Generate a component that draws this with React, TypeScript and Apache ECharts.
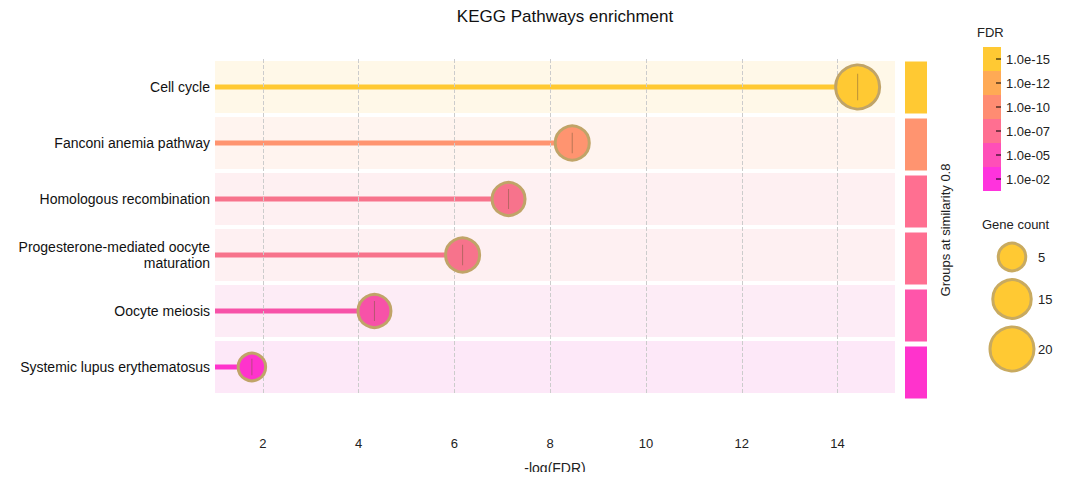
import { useEffect, useRef } from 'react'
import * as echarts from 'echarts'

const pathways = [
  'Cell cycle',
  'Fanconi anemia pathway',
  'Homologous recombination',
  'Progesterone-mediated oocyte\nmaturation',
  'Oocyte meiosis',
  'Systemic lupus erythematosus',
]
const logFdr = [14.42, 8.46, 7.13, 6.17, 4.33, 1.77]
const geneCount = [20, 11, 10, 11, 10, 5]
const rowColors = ['#FFC933', '#FF9470', '#F7738C', '#F7738C', '#F752A8', '#FF33CC']
const bandColors = ['#FFF8E8', '#FFF4EF', '#FEF0F2', '#FEF0F2', '#FDECF6', '#FDE8F8']
const groupColors = ['#FFC933', '#FF9470', '#FF6F91', '#FF6F91', '#FF55AA', '#FF33CC']
const gridTicks = [2, 4, 6, 8, 10, 12, 14]
const fdrLabels = ['1.0e-15', '1.0e-12', '1.0e-10', '1.0e-07', '1.0e-05', '1.0e-02']
const fdrColors = ['#FFC933', '#FFAA55', '#FF8C72', '#FF6F91', '#FF4FB8', '#FF33DD']
const legendCounts = [5, 15, 20]

const XMIN = 1
const XMAX = 15.2
const sizeOf = (n: number) => 22 + n * 1.1
const font = 'Liberation Sans, Arial, sans-serif'

const App = () => {
  const ref = useRef<HTMLDivElement>(null)

  useEffect(() => {
    if (!ref.current) return
    const chart = echarts.init(ref.current, undefined, { renderer: 'svg' })

    const graphic: any[] = []
    // FDR colour bar
    fdrColors.forEach((c, i) => {
      graphic.push({ type: 'rect', shape: { x: 983, y: 47 + i * 24, width: 18, height: 24 }, style: { fill: c } })
      graphic.push({ type: 'line', shape: { x1: 996, y1: 59 + i * 24, x2: 1001, y2: 59 + i * 24 }, style: { stroke: '#000', lineWidth: 1 } })
      graphic.push({ type: 'text', x: 1006, y: 59 + i * 24, style: { text: fdrLabels[i], font: `13px ${font}`, fill: '#222', verticalAlign: 'middle' } })
    })
    graphic.push({ type: 'text', x: 977, y: 32, style: { text: 'FDR', font: `13px ${font}`, fill: '#222', verticalAlign: 'middle' } })
    graphic.push({ type: 'text', x: 982, y: 224, style: { text: 'Gene count', font: `13px ${font}`, fill: '#222', verticalAlign: 'middle' } })
    const ly = [257, 299, 349]
    legendCounts.forEach((n, i) => {
      graphic.push({ type: 'circle', shape: { cx: 1012, cy: ly[i], r: sizeOf(n) / 2 }, style: { fill: '#FFC933', stroke: '#C8AA60', lineWidth: 3 } })
      graphic.push({ type: 'text', x: 1038, y: ly[i], style: { text: String(n), font: `13px ${font}`, fill: '#222', verticalAlign: 'middle' } })
    })
    graphic.push({ type: 'text', x: 945, y: 230, rotation: Math.PI / 2, style: { text: 'Groups at similarity 0.8', font: `13px ${font}`, fill: '#222', align: 'center', verticalAlign: 'middle' } })

    chart.setOption({
      animation: false,
      title: { text: 'KEGG Pathways enrichment', left: 560, top: 3, textAlign: 'center', textStyle: { fontFamily: font, fontSize: 17, fontWeight: 'normal', color: '#111' } },
      grid: [
        { left: 215, right: 185, top: 59, bottom: 79 },
        { left: 905, width: 22, top: 59, bottom: 79 },
      ],
      xAxis: [
        {
          type: 'value', min: XMIN, max: XMAX, gridIndex: 0,
          name: '-log(FDR)', nameLocation: 'middle', nameGap: 66,
          nameTextStyle: { fontFamily: font, fontSize: 14, color: '#222' },
          axisLine: { show: false }, axisTick: { show: false }, splitLine: { show: false },
          axisLabel: { customValues: gridTicks, fontFamily: font, fontSize: 13, color: '#222', margin: 42 },
        },
        { type: 'value', min: 0, max: 1, gridIndex: 1, show: false },
      ],
      yAxis: [
        {
          type: 'category', data: pathways, inverse: true, gridIndex: 0,
          axisLine: { show: false }, axisTick: { show: false },
          axisLabel: { fontFamily: font, fontSize: 14, color: '#111', margin: 5, lineHeight: 16 },
        },
        { type: 'category', data: pathways, inverse: true, gridIndex: 1, show: false },
        { type: 'category', data: pathways, inverse: true, gridIndex: 0, show: false },
      ],
      series: [
        {
          type: 'bar', barWidth: 52, silent: true, yAxisIndex: 2,
          data: bandColors.map((c) => ({ value: XMAX, itemStyle: { color: c } })),
          markLine: {
            symbol: 'none', silent: true, label: { show: false },
            lineStyle: { color: '#CCCCCC', type: 'dashed', width: 1 },
            data: gridTicks.map((t) => ({ xAxis: t })),
          },
        },
        {
          type: 'bar', barWidth: 5, yAxisIndex: 0,
          data: logFdr.map((v, i) => ({ value: v, itemStyle: { color: rowColors[i] } })),
        },
        {
          type: 'scatter',
          data: logFdr.map((v, i) => ({
            value: [v, pathways[i]],
            symbolSize: sizeOf(geneCount[i]),
            itemStyle: { color: rowColors[i], borderColor: '#C0A468', borderWidth: 3, opacity: 1 },
          })),
          z: 5,
        },
        {
          type: 'scatter', symbol: 'rect',
          data: logFdr.map((v, i) => ({ value: [v, pathways[i]], symbolSize: [1, sizeOf(geneCount[i]) * 0.6] })),
          itemStyle: { color: 'rgba(120,90,60,0.5)', opacity: 1 }, z: 6, silent: true,
        },
        {
          type: 'bar', xAxisIndex: 1, yAxisIndex: 1, barWidth: 52,
          data: groupColors.map((c) => ({ value: 1, itemStyle: { color: c } })),
        },
      ],
      graphic,
    })
    return () => chart.dispose()
  }, [])

  return <div ref={ref} style={{ width: 1080, height: 480, margin: -8 }} />
}

export default App
